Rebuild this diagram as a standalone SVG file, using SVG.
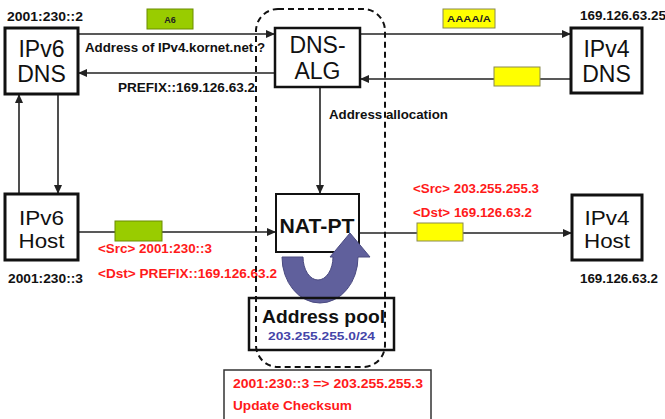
<svg xmlns="http://www.w3.org/2000/svg" width="665" height="419" viewBox="0 0 665 419">
<style>
text{font-family:"Liberation Sans",Arial,sans-serif}
.box{fill:#fff;stroke:#111;stroke-width:3}
.big{font-size:23px;fill:#111;text-anchor:middle}
.hb{font-size:20px;fill:#111;text-anchor:middle}
.lbl{font-size:12px;font-weight:bold;fill:#111}
.red{font-size:12px;font-weight:bold;fill:#ff1a1a}
.ln{stroke:#222;stroke-width:1.6;fill:none}
.grn{fill:#99cc00;stroke:#6b8c00;stroke-width:1}
.yel{fill:#ffff00;stroke:#8a8a50;stroke-width:1}
.tag{font-size:9px;font-weight:bold;fill:#222;text-anchor:middle}
</style>
<defs>
<marker id="ah" markerWidth="9" markerHeight="8" refX="8" refY="4" orient="auto" markerUnits="userSpaceOnUse">
<path d="M0,0 L9,4 L0,8 Z" fill="#222"/>
</marker>
</defs>

<g id="connectors">
<line class="ln" x1="78" y1="34" x2="274" y2="34" marker-end="url(#ah)"/>
<line class="ln" x1="275" y1="73" x2="79" y2="73" marker-end="url(#ah)"/>
<line class="ln" x1="360" y1="34" x2="570" y2="34" marker-end="url(#ah)"/>
<line class="ln" x1="571" y1="79" x2="361" y2="79" marker-end="url(#ah)"/>
<line class="ln" x1="320" y1="87" x2="320" y2="193" marker-end="url(#ah)"/>
<line class="ln" x1="19" y1="194" x2="19" y2="95" marker-end="url(#ah)"/>
<line class="ln" x1="58" y1="94" x2="58" y2="193" marker-end="url(#ah)"/>
<line class="ln" x1="78" y1="232" x2="275" y2="232" marker-end="url(#ah)"/>
<line class="ln" x1="359" y1="233" x2="571" y2="233" marker-end="url(#ah)"/>
<rect class="grn" x="147" y="9" width="46" height="20"/>
<text class="tag" x="170" y="23" font-size="8">A6</text>
<rect class="yel" x="443" y="9" width="52" height="19"/>
<text class="tag" x="469" y="22" textLength="44" lengthAdjust="spacingAndGlyphs">AAAA/A</text>
<rect class="yel" x="494" y="67" width="46" height="19"/>
<rect class="grn" x="115" y="221" width="47" height="20"/>
<rect class="yel" x="417" y="223" width="46" height="18"/>
<text class="lbl" x="85" y="52" textLength="180" lengthAdjust="spacingAndGlyphs">Address of IPv4.kornet.net ?</text>
<text class="lbl" x="118" y="92" textLength="137" lengthAdjust="spacingAndGlyphs">PREFIX::169.126.63.2</text>
<text class="lbl" x="329" y="119" textLength="119" lengthAdjust="spacingAndGlyphs">Address allocation</text>
<text class="red" x="98" y="253" textLength="114" lengthAdjust="spacingAndGlyphs">&lt;Src&gt; 2001:230::3</text>
<text class="red" x="98" y="278" textLength="179" lengthAdjust="spacingAndGlyphs">&lt;Dst&gt; PREFIX::169.126.63.2</text>
<text class="red" x="413" y="193" textLength="126" lengthAdjust="spacingAndGlyphs">&lt;Src&gt; 203.255.255.3</text>
<text class="red" x="413" y="217" textLength="119" lengthAdjust="spacingAndGlyphs">&lt;Dst&gt; 169.126.63.2</text>
</g>

<g id="ipv6dns">
<rect class="box" x="5" y="28" width="73" height="66"/>
<text class="big" x="41.5" y="57">IPv6</text>
<text class="big" x="41.5" y="82">DNS</text>
<text class="lbl" x="7" y="21" textLength="76" lengthAdjust="spacingAndGlyphs">2001:230::2</text>
</g>

<g id="dnsalg">
<rect class="box" x="275" y="28" width="85" height="59" style="stroke-width:2.5"/>
<text class="big" x="317.5" y="53">DNS-</text>
<text class="big" x="317.5" y="79">ALG</text>
</g>

<g id="ipv4dns">
<rect class="box" x="571" y="28" width="71" height="65"/>
<text class="big" x="606.5" y="57">IPv4</text>
<text class="big" x="606.5" y="82">DNS</text>
<text class="lbl" x="580" y="20" textLength="86" lengthAdjust="spacingAndGlyphs">169.126.63.25</text>
</g>

<g id="ipv6host">
<rect class="box" x="5" y="194" width="73" height="66"/>
<text class="hb" x="41.5" y="225" textLength="45" lengthAdjust="spacingAndGlyphs">IPv6</text>
<text class="hb" x="41.5" y="248" textLength="46" lengthAdjust="spacingAndGlyphs">Host</text>
<text class="lbl" x="8" y="283" textLength="75" lengthAdjust="spacingAndGlyphs">2001:230::3</text>
</g>

<g id="ipv4host">
<rect class="box" x="572" y="195" width="70" height="65"/>
<text class="hb" x="607" y="225" textLength="45" lengthAdjust="spacingAndGlyphs">IPv4</text>
<text class="hb" x="607" y="248" textLength="46" lengthAdjust="spacingAndGlyphs">Host</text>
<text class="lbl" x="580" y="283" textLength="78" lengthAdjust="spacingAndGlyphs">169.126.63.2</text>
</g>

<g id="natpt">
<rect class="box" x="276" y="194" width="83" height="58" style="stroke-width:2"/>
<text x="317" y="233" font-size="21" font-weight="bold" fill="#111" text-anchor="middle" textLength="75" lengthAdjust="spacingAndGlyphs">NAT-PT</text>
<path d="M282,257 A38,46 0 0 0 358,257 L370,257 L350,233 L330,257 L333,257 A15,23 0 0 1 303,257 Z" fill="#60609c" stroke="#4a4a80" stroke-width="1"/>
</g>

<g id="addresspool">
<rect x="249" y="298" width="145" height="52" fill="none" stroke="#111" stroke-width="2.5"/>
<text x="262" y="323" font-size="18" font-weight="bold" fill="#111" textLength="123" lengthAdjust="spacingAndGlyphs">Address pool</text>
<text x="268" y="340" font-size="11" font-weight="bold" fill="#4444a8" textLength="107" lengthAdjust="spacingAndGlyphs">203.255.255.0/24</text>
</g>

<g id="dnsalg-natpt-region">
<rect x="256" y="9" width="129" height="358" rx="22" ry="22" fill="none" stroke="#111" stroke-width="2" stroke-dasharray="6,4"/>
</g>

<g id="translation">
<rect x="224" y="370" width="207" height="60" fill="#fff" stroke="#333" stroke-width="1.5"/>
<text class="red" x="233" y="388" textLength="190" lengthAdjust="spacingAndGlyphs">2001:230::3 =&gt; 203.255.255.3</text>
<text class="red" x="233" y="410" textLength="119" lengthAdjust="spacingAndGlyphs">Update Checksum</text>
</g>
</svg>
